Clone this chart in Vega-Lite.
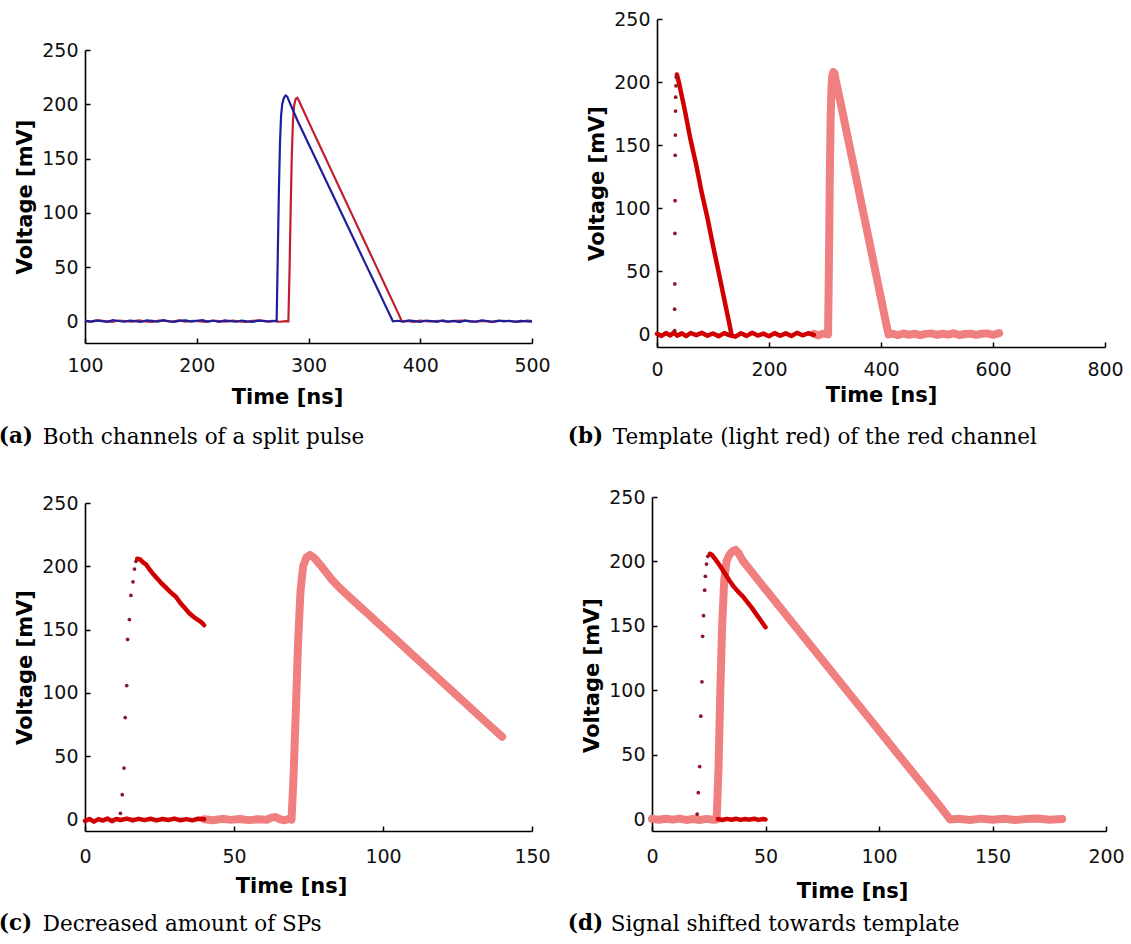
{
  "$schema": "https://vega.github.io/schema/vega-lite/v6.json",
  "background": "white",
  "padding": {"left": -2, "top": 10, "right": 5, "bottom": 5},
  "config": {
    "view": {"stroke": null},
    "axis": {
      "domainColor": "#000", "domainWidth": 1.6,
      "tickColor": "#000", "tickWidth": 1.5, "tickSize": -5,
      "labelFont": "DejaVu Sans", "labelFontSize": 19, "labelColor": "#111",
      "titleFont": "DejaVu Sans", "titleFontSize": 21, "titleFontWeight": "bold", "titleColor": "#000",
      "grid": false, "labelFlush": false, "labelOverlap": false
    },
    "axisX": {"labelPadding": 18, "titlePadding": 9},
    "axisY": {"labelPadding": 12, "titlePadding": 6},
    "title": {"font": "DejaVu Serif", "fontSize": 21.5, "fontWeight": "normal", "color": "#000", "anchor": "start"}
  },
  "datasets": {
    "a": [
      {"s": "red", "t": 100, "v": 0.5}, {"s": "red", "t": 106, "v": -0.4}, {"s": "red", "t": 112, "v": 0.8}, {"s": "red", "t": 118, "v": 0.1},
      {"s": "red", "t": 124, "v": -0.6}, {"s": "red", "t": 130, "v": 0.7}, {"s": "red", "t": 136, "v": 0.2}, {"s": "red", "t": 142, "v": -0.3},
      {"s": "red", "t": 148, "v": 0.9}, {"s": "red", "t": 154, "v": 0.0}, {"s": "red", "t": 160, "v": -0.5}, {"s": "red", "t": 166, "v": 0.6},
      {"s": "red", "t": 172, "v": 0.3}, {"s": "red", "t": 178, "v": -0.2}, {"s": "red", "t": 184, "v": 0.8}, {"s": "red", "t": 190, "v": -0.4},
      {"s": "red", "t": 196, "v": 0.5}, {"s": "red", "t": 202, "v": 0.1}, {"s": "red", "t": 208, "v": -0.6}, {"s": "red", "t": 214, "v": 0.7},
      {"s": "red", "t": 220, "v": 0.2}, {"s": "red", "t": 226, "v": -0.3}, {"s": "red", "t": 232, "v": 0.6}, {"s": "red", "t": 238, "v": 0.0},
      {"s": "red", "t": 244, "v": -0.5}, {"s": "red", "t": 250, "v": 0.4}, {"s": "red", "t": 256, "v": 0.8}, {"s": "red", "t": 262, "v": -0.2},
      {"s": "red", "t": 268, "v": 0.3}, {"s": "red", "t": 274, "v": -0.4}, {"s": "red", "t": 280, "v": 0.2}, {"s": "red", "t": 282, "v": 0.0},
      {"s": "red", "t": 283, "v": 45}, {"s": "red", "t": 284, "v": 100}, {"s": "red", "t": 285, "v": 150}, {"s": "red", "t": 286, "v": 182},
      {"s": "red", "t": 287, "v": 198}, {"s": "red", "t": 288.5, "v": 205}, {"s": "red", "t": 290, "v": 206}, {"s": "red", "t": 292, "v": 202},
      {"s": "red", "t": 300, "v": 184}, {"s": "red", "t": 310, "v": 162}, {"s": "red", "t": 320, "v": 140}, {"s": "red", "t": 330, "v": 118},
      {"s": "red", "t": 340, "v": 96}, {"s": "red", "t": 350, "v": 74}, {"s": "red", "t": 360, "v": 52}, {"s": "red", "t": 370, "v": 30},
      {"s": "red", "t": 380, "v": 8}, {"s": "red", "t": 383.5, "v": 0}, {"s": "red", "t": 388, "v": 0.4}, {"s": "red", "t": 394, "v": -0.5},
      {"s": "red", "t": 400, "v": 0.6}, {"s": "red", "t": 408, "v": -0.2}, {"s": "red", "t": 416, "v": 0.5}, {"s": "red", "t": 424, "v": -0.4},
      {"s": "red", "t": 432, "v": 0.3}, {"s": "red", "t": 440, "v": 0.7}, {"s": "red", "t": 448, "v": -0.3}, {"s": "red", "t": 456, "v": 0.4},
      {"s": "red", "t": 464, "v": -0.6}, {"s": "red", "t": 472, "v": 0.5}, {"s": "red", "t": 480, "v": 0.1}, {"s": "red", "t": 488, "v": -0.4},
      {"s": "red", "t": 496, "v": 0.6}, {"s": "red", "t": 500, "v": 0.2},
      {"s": "blue", "t": 100, "v": 0.6}, {"s": "blue", "t": 105, "v": -0.3}, {"s": "blue", "t": 110, "v": 0.9}, {"s": "blue", "t": 115, "v": 0.2},
      {"s": "blue", "t": 120, "v": -0.5}, {"s": "blue", "t": 125, "v": 1.0}, {"s": "blue", "t": 130, "v": 0.3}, {"s": "blue", "t": 135, "v": -0.4},
      {"s": "blue", "t": 140, "v": 0.7}, {"s": "blue", "t": 145, "v": 0.1}, {"s": "blue", "t": 150, "v": -0.6}, {"s": "blue", "t": 155, "v": 0.8},
      {"s": "blue", "t": 160, "v": 0.4}, {"s": "blue", "t": 165, "v": -0.2}, {"s": "blue", "t": 170, "v": 1.1}, {"s": "blue", "t": 175, "v": 0.0},
      {"s": "blue", "t": 180, "v": -0.5}, {"s": "blue", "t": 185, "v": 0.6}, {"s": "blue", "t": 190, "v": 0.9}, {"s": "blue", "t": 195, "v": -0.3},
      {"s": "blue", "t": 200, "v": 0.4}, {"s": "blue", "t": 205, "v": 1.0}, {"s": "blue", "t": 210, "v": -0.2}, {"s": "blue", "t": 215, "v": 0.5},
      {"s": "blue", "t": 220, "v": -0.6}, {"s": "blue", "t": 225, "v": 0.8}, {"s": "blue", "t": 230, "v": 0.2}, {"s": "blue", "t": 235, "v": -0.4},
      {"s": "blue", "t": 240, "v": 0.7}, {"s": "blue", "t": 245, "v": 0.0}, {"s": "blue", "t": 250, "v": -0.5}, {"s": "blue", "t": 255, "v": 0.6},
      {"s": "blue", "t": 260, "v": 0.3}, {"s": "blue", "t": 265, "v": -0.3}, {"s": "blue", "t": 270, "v": 0.5}, {"s": "blue", "t": 271.5, "v": 0},
      {"s": "blue", "t": 272.5, "v": 60}, {"s": "blue", "t": 273.5, "v": 120}, {"s": "blue", "t": 274.5, "v": 165}, {"s": "blue", "t": 275.5, "v": 190},
      {"s": "blue", "t": 276.5, "v": 200}, {"s": "blue", "t": 278, "v": 206}, {"s": "blue", "t": 279.5, "v": 208}, {"s": "blue", "t": 281, "v": 207},
      {"s": "blue", "t": 283, "v": 202}, {"s": "blue", "t": 290, "v": 185.3}, {"s": "blue", "t": 300, "v": 163.6}, {"s": "blue", "t": 310, "v": 142},
      {"s": "blue", "t": 320, "v": 120.3}, {"s": "blue", "t": 330, "v": 98.6}, {"s": "blue", "t": 340, "v": 76.9}, {"s": "blue", "t": 350, "v": 55.2},
      {"s": "blue", "t": 360, "v": 33.6}, {"s": "blue", "t": 370, "v": 11.9}, {"s": "blue", "t": 375.5, "v": 0}, {"s": "blue", "t": 380, "v": 0.5},
      {"s": "blue", "t": 385, "v": -0.4}, {"s": "blue", "t": 390, "v": 0.8}, {"s": "blue", "t": 395, "v": 0.1}, {"s": "blue", "t": 400, "v": -0.6},
      {"s": "blue", "t": 405, "v": 0.7}, {"s": "blue", "t": 410, "v": 0.2}, {"s": "blue", "t": 415, "v": -0.5}, {"s": "blue", "t": 420, "v": 0.9},
      {"s": "blue", "t": 425, "v": -0.2}, {"s": "blue", "t": 430, "v": 0.4}, {"s": "blue", "t": 435, "v": -0.7}, {"s": "blue", "t": 440, "v": 0.6},
      {"s": "blue", "t": 445, "v": 0.0}, {"s": "blue", "t": 450, "v": -0.4}, {"s": "blue", "t": 455, "v": 0.8}, {"s": "blue", "t": 460, "v": 0.3},
      {"s": "blue", "t": 465, "v": -0.5}, {"s": "blue", "t": 470, "v": 0.6}, {"s": "blue", "t": 475, "v": -0.1}, {"s": "blue", "t": 480, "v": 0.5},
      {"s": "blue", "t": 485, "v": -0.6}, {"s": "blue", "t": 490, "v": 0.4}, {"s": "blue", "t": 495, "v": 0.0}, {"s": "blue", "t": 500, "v": -0.3}
    ],
    "b": [
      {"s": "sig", "g": "base", "t": 0, "v": 0.5}, {"s": "sig", "g": "base", "t": 8, "v": -1.2}, {"s": "sig", "g": "base", "t": 16, "v": 1.0},
      {"s": "sig", "g": "base", "t": 24, "v": -0.8}, {"s": "sig", "g": "base", "t": 30, "v": 1.5}, {"s": "sig", "g": "base", "t": 36, "v": -1.0},
      {"s": "sig", "g": "base", "t": 44, "v": 0.8}, {"s": "sig", "g": "base", "t": 52, "v": -1.3}, {"s": "sig", "g": "base", "t": 60, "v": 1.1},
      {"s": "sig", "g": "base", "t": 70, "v": -0.6}, {"s": "sig", "g": "base", "t": 80, "v": 1.2}, {"s": "sig", "g": "base", "t": 90, "v": -1.0},
      {"s": "sig", "g": "base", "t": 100, "v": 0.7}, {"s": "sig", "g": "base", "t": 110, "v": -1.4}, {"s": "sig", "g": "base", "t": 120, "v": 1.0},
      {"s": "sig", "g": "base", "t": 130, "v": -0.8}, {"s": "sig", "g": "base", "t": 140, "v": -1.8}, {"s": "sig", "g": "base", "t": 150, "v": 0.9},
      {"s": "sig", "g": "base", "t": 160, "v": -1.2}, {"s": "sig", "g": "base", "t": 170, "v": 1.3}, {"s": "sig", "g": "base", "t": 180, "v": -0.9},
      {"s": "sig", "g": "base", "t": 190, "v": 0.6}, {"s": "sig", "g": "base", "t": 200, "v": -1.5}, {"s": "sig", "g": "base", "t": 210, "v": 1.0},
      {"s": "sig", "g": "base", "t": 220, "v": -1.1}, {"s": "sig", "g": "base", "t": 230, "v": 0.8}, {"s": "sig", "g": "base", "t": 240, "v": -1.3},
      {"s": "sig", "g": "base", "t": 250, "v": 1.2}, {"s": "sig", "g": "base", "t": 260, "v": -0.7}, {"s": "sig", "g": "base", "t": 270, "v": 0.9},
      {"s": "sig", "g": "base", "t": 280, "v": -0.4},
      {"s": "dot", "t": 31.5, "v": 3}, {"s": "dot", "t": 31.5, "v": 20}, {"s": "dot", "t": 31.8, "v": 40}, {"s": "dot", "t": 32, "v": 80},
      {"s": "dot", "t": 32.3, "v": 106}, {"s": "dot", "t": 32.5, "v": 142}, {"s": "dot", "t": 32.8, "v": 158}, {"s": "dot", "t": 33, "v": 177},
      {"s": "dot", "t": 33.3, "v": 188}, {"s": "dot", "t": 33.8, "v": 197}, {"s": "dot", "t": 34.3, "v": 204},
      {"s": "sig", "g": "fall", "t": 35.5, "v": 206}, {"s": "sig", "g": "fall", "t": 40, "v": 198}, {"s": "sig", "g": "fall", "t": 50, "v": 177},
      {"s": "sig", "g": "fall", "t": 60, "v": 154}, {"s": "sig", "g": "fall", "t": 70, "v": 134.5}, {"s": "sig", "g": "fall", "t": 80, "v": 112},
      {"s": "sig", "g": "fall", "t": 90, "v": 92.5}, {"s": "sig", "g": "fall", "t": 100, "v": 70.5}, {"s": "sig", "g": "fall", "t": 110, "v": 49.5},
      {"s": "sig", "g": "fall", "t": 120, "v": 28}, {"s": "sig", "g": "fall", "t": 128, "v": 11}, {"s": "sig", "g": "fall", "t": 133, "v": 0},
      {"s": "tpl", "t": 280, "v": 0.5}, {"s": "tpl", "t": 288, "v": -0.8}, {"s": "tpl", "t": 296, "v": 0.6}, {"s": "tpl", "t": 304, "v": 0.2},
      {"s": "tpl", "t": 305.5, "v": 0}, {"s": "tpl", "t": 307, "v": 55}, {"s": "tpl", "t": 308.5, "v": 120}, {"s": "tpl", "t": 310, "v": 170},
      {"s": "tpl", "t": 311.5, "v": 195}, {"s": "tpl", "t": 313, "v": 205}, {"s": "tpl", "t": 315, "v": 208}, {"s": "tpl", "t": 317, "v": 207},
      {"s": "tpl", "t": 319, "v": 202}, {"s": "tpl", "t": 330, "v": 179}, {"s": "tpl", "t": 340, "v": 157.6}, {"s": "tpl", "t": 350, "v": 136},
      {"s": "tpl", "t": 360, "v": 114.7}, {"s": "tpl", "t": 370, "v": 93}, {"s": "tpl", "t": 380, "v": 71.8}, {"s": "tpl", "t": 390, "v": 50},
      {"s": "tpl", "t": 400, "v": 28.5}, {"s": "tpl", "t": 408, "v": 11}, {"s": "tpl", "t": 413.5, "v": 0}, {"s": "tpl", "t": 420, "v": 0.6},
      {"s": "tpl", "t": 430, "v": -0.5}, {"s": "tpl", "t": 440, "v": 0.7}, {"s": "tpl", "t": 450, "v": -0.3}, {"s": "tpl", "t": 460, "v": 0.5},
      {"s": "tpl", "t": 470, "v": -0.6}, {"s": "tpl", "t": 480, "v": 0.4}, {"s": "tpl", "t": 490, "v": 0.8}, {"s": "tpl", "t": 500, "v": -0.4},
      {"s": "tpl", "t": 510, "v": 0.5}, {"s": "tpl", "t": 520, "v": -0.2}, {"s": "tpl", "t": 530, "v": 0.9}, {"s": "tpl", "t": 540, "v": -0.5},
      {"s": "tpl", "t": 550, "v": 0.3}, {"s": "tpl", "t": 560, "v": 0.6}, {"s": "tpl", "t": 570, "v": -0.4}, {"s": "tpl", "t": 580, "v": 0.5},
      {"s": "tpl", "t": 590, "v": 0.8}, {"s": "tpl", "t": 600, "v": -0.3}, {"s": "tpl", "t": 608, "v": 0.6}, {"s": "tpl", "t": 611, "v": 1}
    ],
    "c": [
      {"s": "tpl", "t": 40, "v": 0.3}, {"s": "tpl", "t": 43, "v": -0.5}, {"s": "tpl", "t": 46, "v": 0.6}, {"s": "tpl", "t": 49, "v": -0.2},
      {"s": "tpl", "t": 52, "v": 0.5}, {"s": "tpl", "t": 55, "v": -0.4}, {"s": "tpl", "t": 58, "v": 0.3}, {"s": "tpl", "t": 61, "v": -0.2},
      {"s": "tpl", "t": 62.5, "v": 1.5}, {"s": "tpl", "t": 64, "v": 2.0}, {"s": "tpl", "t": 65.5, "v": 0.2}, {"s": "tpl", "t": 67, "v": -0.5},
      {"s": "tpl", "t": 68.5, "v": 0.5}, {"s": "tpl", "t": 69.3, "v": 0}, {"s": "tpl", "t": 70, "v": 35}, {"s": "tpl", "t": 70.8, "v": 90},
      {"s": "tpl", "t": 71.5, "v": 140}, {"s": "tpl", "t": 72.3, "v": 180}, {"s": "tpl", "t": 73.2, "v": 200}, {"s": "tpl", "t": 74.3, "v": 207},
      {"s": "tpl", "t": 75.5, "v": 209}, {"s": "tpl", "t": 77, "v": 206.5}, {"s": "tpl", "t": 79, "v": 201}, {"s": "tpl", "t": 81, "v": 195},
      {"s": "tpl", "t": 83, "v": 189}, {"s": "tpl", "t": 85, "v": 184}, {"s": "tpl", "t": 90, "v": 173}, {"s": "tpl", "t": 95, "v": 162.4},
      {"s": "tpl", "t": 100, "v": 151.6}, {"s": "tpl", "t": 105, "v": 140.8}, {"s": "tpl", "t": 110, "v": 130}, {"s": "tpl", "t": 115, "v": 119.2},
      {"s": "tpl", "t": 120, "v": 108.4}, {"s": "tpl", "t": 125, "v": 97.6}, {"s": "tpl", "t": 130, "v": 86.8}, {"s": "tpl", "t": 135, "v": 76},
      {"s": "tpl", "t": 140, "v": 65.5},
      {"s": "sig", "g": "base", "t": 0, "v": -1.0}, {"s": "sig", "g": "base", "t": 1.5, "v": 0.5}, {"s": "sig", "g": "base", "t": 3, "v": -1.6},
      {"s": "sig", "g": "base", "t": 4.5, "v": 0.4}, {"s": "sig", "g": "base", "t": 6, "v": -0.8}, {"s": "sig", "g": "base", "t": 7.5, "v": 0.9},
      {"s": "sig", "g": "base", "t": 9, "v": -1.2}, {"s": "sig", "g": "base", "t": 10.5, "v": 0.5}, {"s": "sig", "g": "base", "t": 12, "v": -0.3},
      {"s": "sig", "g": "base", "t": 14, "v": 0.8}, {"s": "sig", "g": "base", "t": 16, "v": -0.5}, {"s": "sig", "g": "base", "t": 18, "v": 0.6},
      {"s": "sig", "g": "base", "t": 20, "v": -0.4}, {"s": "sig", "g": "base", "t": 22, "v": 0.7}, {"s": "sig", "g": "base", "t": 24, "v": -0.6},
      {"s": "sig", "g": "base", "t": 26, "v": 0.5}, {"s": "sig", "g": "base", "t": 28, "v": -0.3}, {"s": "sig", "g": "base", "t": 30, "v": 0.8},
      {"s": "sig", "g": "base", "t": 32, "v": -0.5}, {"s": "sig", "g": "base", "t": 34, "v": 0.4}, {"s": "sig", "g": "base", "t": 36, "v": -0.6},
      {"s": "sig", "g": "base", "t": 38, "v": 0.7}, {"s": "sig", "g": "base", "t": 40, "v": 0.2},
      {"s": "dot", "t": 11.9, "v": 5}, {"s": "dot", "t": 12.5, "v": 19.7}, {"s": "dot", "t": 13.1, "v": 40.7}, {"s": "dot", "t": 13.5, "v": 80.6},
      {"s": "dot", "t": 14, "v": 105.8}, {"s": "dot", "t": 14.3, "v": 142.3}, {"s": "dot", "t": 14.9, "v": 158}, {"s": "dot", "t": 15.4, "v": 177},
      {"s": "dot", "t": 16.1, "v": 187.8}, {"s": "dot", "t": 16.6, "v": 197.8}, {"s": "dot", "t": 17.1, "v": 204},
      {"s": "sig", "g": "fall", "t": 17.5, "v": 206}, {"s": "sig", "g": "fall", "t": 18.5, "v": 205.5}, {"s": "sig", "g": "fall", "t": 19.5, "v": 203},
      {"s": "sig", "g": "fall", "t": 20.5, "v": 201.5}, {"s": "sig", "g": "fall", "t": 21.5, "v": 198}, {"s": "sig", "g": "fall", "t": 22.5, "v": 195},
      {"s": "sig", "g": "fall", "t": 24, "v": 191}, {"s": "sig", "g": "fall", "t": 25.5, "v": 187}, {"s": "sig", "g": "fall", "t": 27, "v": 183.5},
      {"s": "sig", "g": "fall", "t": 28.5, "v": 180}, {"s": "sig", "g": "fall", "t": 29.5, "v": 178}, {"s": "sig", "g": "fall", "t": 30.5, "v": 176},
      {"s": "sig", "g": "fall", "t": 32, "v": 171}, {"s": "sig", "g": "fall", "t": 33.5, "v": 167}, {"s": "sig", "g": "fall", "t": 35, "v": 163},
      {"s": "sig", "g": "fall", "t": 36.5, "v": 160}, {"s": "sig", "g": "fall", "t": 38, "v": 157.5}, {"s": "sig", "g": "fall", "t": 39, "v": 156},
      {"s": "sig", "g": "fall", "t": 40, "v": 153.5}
    ],
    "d": [
      {"s": "tpl", "t": 0, "v": 0.4}, {"s": "tpl", "t": 3, "v": -0.3}, {"s": "tpl", "t": 6, "v": 0.5}, {"s": "tpl", "t": 9, "v": -0.2},
      {"s": "tpl", "t": 12, "v": 0.6}, {"s": "tpl", "t": 15, "v": -0.4}, {"s": "tpl", "t": 18, "v": 0.3}, {"s": "tpl", "t": 21, "v": -0.5},
      {"s": "tpl", "t": 24, "v": 0.4}, {"s": "tpl", "t": 27, "v": -0.2}, {"s": "tpl", "t": 28.5, "v": 0}, {"s": "tpl", "t": 29.3, "v": 40},
      {"s": "tpl", "t": 30.1, "v": 100}, {"s": "tpl", "t": 30.9, "v": 150}, {"s": "tpl", "t": 31.8, "v": 185}, {"s": "tpl", "t": 32.8, "v": 200},
      {"s": "tpl", "t": 34, "v": 205}, {"s": "tpl", "t": 35.5, "v": 208}, {"s": "tpl", "t": 36.8, "v": 209}, {"s": "tpl", "t": 38.3, "v": 206},
      {"s": "tpl", "t": 40, "v": 200.5}, {"s": "tpl", "t": 50, "v": 178.5}, {"s": "tpl", "t": 60, "v": 156.6}, {"s": "tpl", "t": 70, "v": 134.7},
      {"s": "tpl", "t": 80, "v": 112.8}, {"s": "tpl", "t": 90, "v": 90.9}, {"s": "tpl", "t": 100, "v": 69}, {"s": "tpl", "t": 110, "v": 47.1},
      {"s": "tpl", "t": 120, "v": 25.2}, {"s": "tpl", "t": 127, "v": 9.9}, {"s": "tpl", "t": 131.3, "v": 0}, {"s": "tpl", "t": 135, "v": 0.5},
      {"s": "tpl", "t": 140, "v": -0.4}, {"s": "tpl", "t": 145, "v": 0.6}, {"s": "tpl", "t": 150, "v": -0.2}, {"s": "tpl", "t": 155, "v": 0.5},
      {"s": "tpl", "t": 160, "v": -0.5}, {"s": "tpl", "t": 165, "v": 0.4}, {"s": "tpl", "t": 170, "v": 0.7}, {"s": "tpl", "t": 175, "v": -0.3},
      {"s": "tpl", "t": 180.7, "v": 0.3},
      {"s": "sig", "g": "base", "t": 29, "v": 0.3}, {"s": "sig", "g": "base", "t": 31, "v": -0.5}, {"s": "sig", "g": "base", "t": 33, "v": 0.4},
      {"s": "sig", "g": "base", "t": 35, "v": -0.3}, {"s": "sig", "g": "base", "t": 37, "v": 0.5}, {"s": "sig", "g": "base", "t": 39, "v": -0.4},
      {"s": "sig", "g": "base", "t": 41, "v": 0.3}, {"s": "sig", "g": "base", "t": 43, "v": -0.2}, {"s": "sig", "g": "base", "t": 45, "v": 0.5},
      {"s": "sig", "g": "base", "t": 47, "v": -0.4}, {"s": "sig", "g": "base", "t": 49, "v": 0.3}, {"s": "sig", "g": "base", "t": 50, "v": 0},
      {"s": "dot", "t": 19.9, "v": 4}, {"s": "dot", "t": 20.4, "v": 20.7}, {"s": "dot", "t": 21, "v": 41}, {"s": "dot", "t": 21.5, "v": 80},
      {"s": "dot", "t": 22, "v": 106.7}, {"s": "dot", "t": 22.3, "v": 142}, {"s": "dot", "t": 22.7, "v": 158}, {"s": "dot", "t": 23.2, "v": 177.7},
      {"s": "dot", "t": 23.5, "v": 188.5}, {"s": "dot", "t": 24, "v": 198}, {"s": "dot", "t": 24.6, "v": 204},
      {"s": "sig", "g": "fall", "t": 25.5, "v": 206}, {"s": "sig", "g": "fall", "t": 26.5, "v": 205}, {"s": "sig", "g": "fall", "t": 28, "v": 201.5},
      {"s": "sig", "g": "fall", "t": 30, "v": 196.5}, {"s": "sig", "g": "fall", "t": 32, "v": 191}, {"s": "sig", "g": "fall", "t": 34, "v": 185.5},
      {"s": "sig", "g": "fall", "t": 36, "v": 180.5}, {"s": "sig", "g": "fall", "t": 38, "v": 176.5}, {"s": "sig", "g": "fall", "t": 40, "v": 173},
      {"s": "sig", "g": "fall", "t": 42, "v": 168.5}, {"s": "sig", "g": "fall", "t": 44, "v": 164}, {"s": "sig", "g": "fall", "t": 46, "v": 159},
      {"s": "sig", "g": "fall", "t": 48, "v": 154}, {"s": "sig", "g": "fall", "t": 50, "v": 149}
    ]
  },
  "spacing": 40,
  "vconcat": [
    {
      "spacing": 16,
      "hconcat": [
        {
          "title": {"text": "(a)", "orient": "bottom", "anchor": "start", "fontWeight": "bold", "offset": -22, "dx": -16},
          "vconcat": [
            {
              "width": 447,
              "height": 324,
              "data": {"name": "a"},
              "title": {"text": "Both channels of a split pulse", "orient": "bottom", "anchor": "start", "offset": 19.5, "dx": 28},
              "encoding": {
                "x": {"field": "t", "type": "quantitative", "scale": {"domain": [100, 500], "nice": false, "zero": false},
                      "axis": {"values": [100, 200, 300, 400, 500], "title": "Time [ns]", "titlePadding": 11, "titleX": 202}},
                "y": {"field": "v", "type": "quantitative", "scale": {"domain": [-20, 250], "range": [324, 31], "nice": false, "zero": false},
                      "axis": {"values": [0, 50, 100, 150, 200, 250], "title": "Voltage [mV]"}}
              },
              "layer": [
                {"transform": [{"filter": "datum.s === 'red'"}], "mark": {"type": "line", "color": "#c21f2e", "strokeWidth": 2.2}},
                {"transform": [{"filter": "datum.s === 'blue'"}], "mark": {"type": "line", "color": "#1f1f9e", "strokeWidth": 2.2}}
              ]
            }
          ]
        },
        {
          "title": {"text": "(b)", "orient": "bottom", "anchor": "start", "fontWeight": "bold", "offset": -22, "dx": -19},
          "vconcat": [
            {
              "width": 448,
              "height": 328,
              "data": {"name": "b"},
              "title": {"text": "Template (light red) of the red channel", "orient": "bottom", "anchor": "start", "offset": 21.5, "dx": 26},
              "encoding": {
                "x": {"field": "t", "type": "quantitative", "scale": {"domain": [0, 800], "nice": false, "zero": false},
                      "axis": {"values": [0, 200, 400, 600, 800], "title": "Time [ns]", "titlePadding": 5}},
                "y": {"field": "v", "type": "quantitative", "scale": {"domain": [-10, 250], "nice": false, "zero": false},
                      "axis": {"values": [0, 50, 100, 150, 200, 250], "title": "Voltage [mV]"}}
              },
              "layer": [
                {"transform": [{"filter": "datum.s === 'tpl'"}], "mark": {"type": "line", "color": "#f08080", "strokeWidth": 8, "strokeCap": "round", "strokeJoin": "round"}},
                {"transform": [{"filter": "datum.s === 'sig'"}], "mark": {"type": "line", "color": "#d00000", "strokeWidth": 4.5, "strokeCap": "round", "strokeJoin": "round"},
                 "encoding": {"detail": {"field": "g"}}},
                {"transform": [{"filter": "datum.s === 'dot'"}], "mark": {"type": "point", "filled": true, "color": "#8e1728", "size": 14, "opacity": 1}}
              ]
            }
          ]
        }
      ]
    },
    {
      "spacing": 16,
      "hconcat": [
        {
          "title": {"text": "(c)", "orient": "bottom", "anchor": "start", "fontWeight": "bold", "offset": -22, "dx": -16},
          "vconcat": [
            {
              "width": 447,
              "height": 334,
              "data": {"name": "c"},
              "title": {"text": "Decreased amount of SPs", "orient": "bottom", "anchor": "start", "offset": 17.5, "dx": 28},
              "encoding": {
                "x": {"field": "t", "type": "quantitative", "scale": {"domain": [0, 150], "nice": false, "zero": false},
                      "axis": {"values": [0, 50, 100, 150], "title": "Time [ns]", "labelPadding": 21, "titlePadding": 9, "titleX": 206}},
                "y": {"field": "v", "type": "quantitative", "scale": {"domain": [-9, 250], "range": [334, 6], "nice": false, "zero": false},
                      "axis": {"values": [0, 50, 100, 150, 200, 250], "title": "Voltage [mV]"}}
              },
              "layer": [
                {"transform": [{"filter": "datum.s === 'tpl'"}], "mark": {"type": "line", "color": "#f08080", "strokeWidth": 8, "strokeCap": "round", "strokeJoin": "round"}},
                {"transform": [{"filter": "datum.s === 'sig'"}], "mark": {"type": "line", "color": "#d00000", "strokeWidth": 4.5, "strokeCap": "round", "strokeJoin": "round"},
                 "encoding": {"detail": {"field": "g"}}},
                {"transform": [{"filter": "datum.s === 'dot'"}], "mark": {"type": "point", "filled": true, "color": "#8e1728", "size": 14, "opacity": 1}}
              ]
            }
          ]
        },
        {
          "title": {"text": "(d)", "orient": "bottom", "anchor": "start", "fontWeight": "bold", "offset": -22, "dx": -14},
          "vconcat": [
            {
              "width": 454,
              "height": 334,
              "data": {"name": "d"},
              "title": {"text": "Signal shifted towards template", "orient": "bottom", "anchor": "start", "offset": 12.5, "dx": 29},
              "encoding": {
                "x": {"field": "t", "type": "quantitative", "scale": {"domain": [0, 200], "nice": false, "zero": false},
                      "axis": {"values": [0, 50, 100, 150, 200], "title": "Time [ns]", "labelPadding": 21, "titlePadding": 14, "titleX": 200}},
                "y": {"field": "v", "type": "quantitative", "scale": {"domain": [-9, 250], "nice": false, "zero": false},
                      "axis": {"values": [0, 50, 100, 150, 200, 250], "title": "Voltage [mV]", "titleY": 178}}
              },
              "layer": [
                {"transform": [{"filter": "datum.s === 'tpl'"}], "mark": {"type": "line", "color": "#f08080", "strokeWidth": 8, "strokeCap": "round", "strokeJoin": "round"}},
                {"transform": [{"filter": "datum.s === 'sig'"}], "mark": {"type": "line", "color": "#d00000", "strokeWidth": 4.5, "strokeCap": "round", "strokeJoin": "round"},
                 "encoding": {"detail": {"field": "g"}}},
                {"transform": [{"filter": "datum.s === 'dot'"}], "mark": {"type": "point", "filled": true, "color": "#8e1728", "size": 14, "opacity": 1}}
              ]
            }
          ]
        }
      ]
    }
  ]
}
